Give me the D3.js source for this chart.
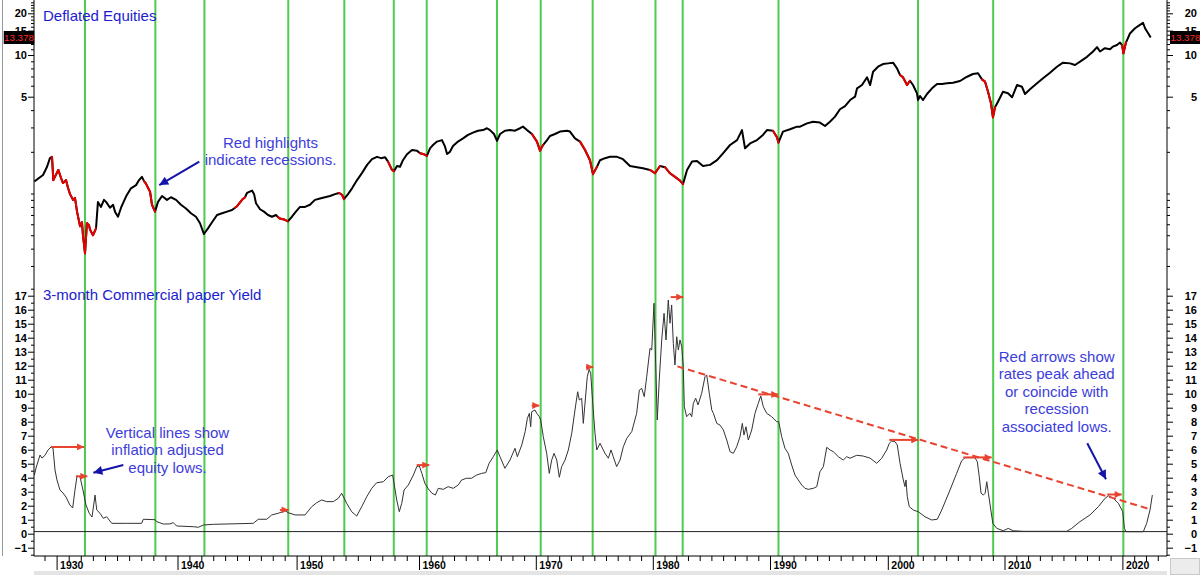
<!DOCTYPE html>
<html>
<head>
<meta charset="utf-8">
<script src="https://cdn.jsdelivr.net/npm/d3@7"></script>
<style>
  html, body { margin: 0; padding: 0; background: #fff; }
  svg { display: block; font-family: Arial, "Liberation Sans", sans-serif; }
</style>
</head>
<body>
<div id="chart"></div>
<script>
// ---------------------------------------------------------------
// Data
// ---------------------------------------------------------------
const decadeTicks = [1930, 1940, 1950, 1960, 1970, 1980, 1990, 2000, 2010, 2020];
const equityTickLabels = [5, 10, 15, 20];
const yieldTickLabels = [-1, 0, 1, 2, 3, 4, 5, 6, 7, 8, 9, 10, 11, 12, 13, 14, 15, 16, 17];
const lastEquity = 13.3787;

// inflation adjusted equity lows (green verticals)
const equityLows = [1932.35, 1938.17, 1942.26, 1949.3, 1953.9, 1957.94, 1960.66, 1966.68,
    1970.42, 1974.86, 1980.23, 1982.55, 1990.72, 2002.59, 2009.03, 2020.08];

// recession windows, highlighted red on the equity line
const recessions = [[1929.6, 1933.3], [1937.15, 1938.2], [1944.8, 1945.7], [1948.4, 1949.3],
    [1953.5, 1954.0], [1957.5, 1958.0], [1960.1, 1960.8], [1969.7, 1970.5], [1973.6, 1975.2],
    [1979.8, 1980.4], [1981.05, 1982.65], [1990.4, 1990.85], [2001.05, 2001.9],
    [2008.0, 2009.3], [2020.0, 2020.25]];

// deflated equities [year, index]
const equitySeries = [
    [1928.16, 1.22], [1928.88, 1.36], [1929.21, 1.56], [1929.45, 1.8], [1929.62, 1.84], [1929.73, 1.25],
    [1930.14, 1.48], [1930.36, 1.3], [1930.53, 1.19], [1930.78, 1.25], [1930.94, 1.1], [1931.11, 0.99],
    [1931.36, 0.9], [1931.52, 0.93], [1931.69, 0.74], [1931.94, 0.58], [1932.1, 0.62], [1932.18, 0.5],
    [1932.35, 0.37], [1932.51, 0.61], [1932.68, 0.59], [1932.76, 0.55], [1933.01, 0.5], [1933.26, 0.56],
    [1933.42, 0.87], [1933.67, 0.8], [1933.92, 0.9], [1934.09, 0.87], [1934.42, 0.79], [1934.67, 0.83],
    [1934.83, 0.74], [1935.08, 0.68], [1935.33, 0.79], [1935.74, 0.95], [1936.15, 1.09], [1936.57, 1.15],
    [1936.82, 1.25], [1937.06, 1.32], [1937.23, 1.23], [1937.39, 1.18], [1937.56, 1.1], [1937.73, 1.03],
    [1937.89, 0.83], [1938.14, 0.74], [1938.39, 0.87], [1938.72, 0.96], [1939.13, 0.9], [1939.46, 0.94],
    [1939.88, 0.9], [1940.29, 0.83], [1940.71, 0.78], [1941.13, 0.72], [1941.55, 0.68], [1941.89, 0.61],
    [1942.22, 0.51], [1942.56, 0.56], [1942.9, 0.62], [1943.32, 0.7], [1943.74, 0.72], [1944.16, 0.74],
    [1944.58, 0.76], [1944.83, 0.79], [1945.0, 0.81], [1945.42, 0.9], [1945.67, 0.94], [1945.84, 1.01],
    [1946.26, 1.05], [1946.43, 0.99], [1946.59, 0.85], [1946.93, 0.77], [1947.26, 0.74], [1947.6, 0.7],
    [1947.93, 0.68], [1948.27, 0.7], [1948.44, 0.675], [1948.6, 0.66], [1948.94, 0.65], [1949.27, 0.63],
    [1949.61, 0.68], [1949.94, 0.74], [1950.28, 0.8], [1950.69, 0.8], [1951.09, 0.83], [1951.5, 0.9],
    [1951.91, 0.92], [1952.32, 0.94], [1952.73, 0.96], [1953.14, 0.99], [1953.46, 1.01], [1953.71, 0.98],
    [1953.87, 0.91], [1954.2, 0.99], [1954.53, 1.09], [1954.94, 1.25], [1955.35, 1.41], [1955.76, 1.61],
    [1956.16, 1.77], [1956.57, 1.84], [1956.9, 1.8], [1957.22, 1.83], [1957.47, 1.7], [1957.79, 1.48],
    [1957.96, 1.45], [1958.2, 1.58], [1958.45, 1.56], [1958.69, 1.74], [1959.02, 1.92], [1959.43, 2.06],
    [1959.84, 2.04], [1960.09, 1.95], [1960.43, 1.92], [1960.68, 1.87], [1960.94, 2.12], [1961.2, 2.24],
    [1961.54, 2.37], [1961.97, 2.43], [1962.23, 2.18], [1962.4, 1.93], [1962.65, 2.0], [1962.91, 2.2],
    [1963.34, 2.37], [1963.77, 2.5], [1964.2, 2.65], [1964.62, 2.75], [1965.05, 2.84], [1965.48, 2.87],
    [1965.82, 2.96], [1966.08, 2.87], [1966.42, 2.69], [1966.68, 2.4], [1966.94, 2.69], [1967.36, 2.84],
    [1967.79, 2.87], [1968.22, 2.84], [1968.65, 2.96], [1968.9, 3.04], [1969.25, 2.87], [1969.67, 2.69],
    [1970.1, 2.37], [1970.36, 2.04], [1970.62, 2.24], [1970.96, 2.43], [1971.21, 2.6], [1971.64, 2.69],
    [1972.07, 2.8], [1972.67, 2.84], [1972.92, 2.8], [1973.35, 2.5], [1973.78, 2.37], [1974.21, 2.06],
    [1974.63, 1.74], [1974.89, 1.38], [1975.23, 1.56], [1975.49, 1.74], [1975.91, 1.8], [1976.34, 1.84],
    [1976.94, 1.84], [1977.45, 1.77], [1978.05, 1.58], [1978.65, 1.55], [1979.16, 1.52], [1979.76, 1.48],
    [1980.19, 1.4], [1980.61, 1.58], [1981.04, 1.55], [1981.47, 1.4], [1981.89, 1.32], [1982.32, 1.24],
    [1982.58, 1.17], [1982.92, 1.48], [1983.35, 1.7], [1983.77, 1.72], [1984.28, 1.58], [1984.88, 1.61],
    [1985.48, 1.74], [1985.99, 1.95], [1986.59, 2.24], [1987.19, 2.43], [1987.61, 2.87], [1987.87, 2.12],
    [1988.3, 2.3], [1988.89, 2.43], [1989.4, 2.65], [1989.74, 2.87], [1990.25, 2.84], [1990.59, 2.55],
    [1990.72, 2.33], [1991.1, 2.8], [1991.7, 2.91], [1992.29, 3.04], [1992.55, 3.04], [1993.14, 3.21],
    [1993.65, 3.3], [1994.24, 3.25], [1994.67, 3.07], [1995.09, 3.3], [1995.52, 3.59], [1995.94, 4.06],
    [1996.37, 4.28], [1996.8, 4.73], [1997.22, 5.0], [1997.39, 5.75], [1997.81, 6.07], [1998.24, 6.9],
    [1998.5, 6.07], [1998.75, 7.58], [1999.17, 8.23], [1999.59, 8.6], [2000.02, 8.7], [2000.45, 8.8],
    [2000.79, 8.0], [2001.05, 7.17], [2001.3, 6.9], [2001.65, 6.07], [2001.9, 6.52], [2002.16, 6.07],
    [2002.5, 5.29], [2002.59, 4.73], [2002.76, 5.06], [2003.02, 4.73], [2003.36, 5.23], [2003.79, 5.75],
    [2004.22, 6.18], [2004.64, 6.18], [2005.07, 6.25], [2005.59, 6.31], [2006.19, 6.49], [2006.79, 6.97],
    [2007.3, 7.29], [2007.73, 7.38], [2008.07, 6.67], [2008.33, 6.42], [2008.59, 5.43], [2008.84, 4.48],
    [2009.01, 3.55], [2009.19, 4.19], [2009.44, 4.6], [2009.87, 5.43], [2010.3, 5.29], [2010.64, 4.95],
    [2011.06, 6.07], [2011.48, 5.9], [2011.74, 5.23], [2012.16, 5.65], [2012.76, 6.25], [2013.27, 6.79],
    [2013.86, 7.45], [2014.45, 8.23], [2014.96, 8.8], [2015.56, 8.7], [2015.98, 8.47], [2016.41, 8.95],
    [2017.0, 9.7], [2017.51, 10.6], [2017.85, 11.4], [2018.1, 10.6], [2018.52, 11.2], [2018.95, 11.0],
    [2019.2, 11.5], [2019.54, 11.8], [2019.8, 12.3], [2019.97, 11.8], [2020.09, 10.3], [2020.3, 12.3],
    [2020.64, 14.3], [2021.07, 15.6], [2021.49, 16.5], [2021.75, 17.1], [2021.92, 15.6], [2022.17, 14.4],
    [2022.4, 13.38]
];

// 3-month commercial paper yield [year, %]
const yieldSeries = [
    [1928.16, 4.19], [1928.3, 4.7], [1928.63, 5.62], [1928.79, 5.4], [1929.04, 5.6], [1929.29, 5.98],
    [1929.54, 6.19], [1929.7, 6.12], [1929.87, 4.55], [1930.03, 3.84], [1930.28, 3.12], [1930.53, 2.91],
    [1930.78, 2.62], [1931.1, 2.05], [1931.33, 1.84], [1931.52, 3.12], [1931.69, 4.12], [1931.94, 4.05],
    [1932.18, 3.12], [1932.43, 2.05], [1932.7, 1.46], [1932.93, 1.19], [1933.18, 2.76], [1933.32, 1.69],
    [1933.59, 1.46], [1933.86, 1.1], [1934.14, 1.21], [1934.56, 0.74], [1935.8, 0.74], [1937.04, 0.74],
    [1937.17, 1.03], [1938.14, 1.0], [1938.28, 0.86], [1938.83, 0.69], [1939.38, 0.7], [1939.65, 0.79],
    [1939.93, 0.55], [1941.33, 0.5], [1941.75, 0.46], [1942.17, 0.62], [1943.0, 0.67], [1946.36, 0.74],
    [1946.78, 1.03], [1947.49, 1.03], [1947.91, 1.34], [1948.46, 1.46], [1949.03, 1.64], [1949.3, 1.5],
    [1949.87, 1.34], [1950.69, 1.34], [1951.23, 1.93], [1951.64, 2.21], [1952.05, 2.41], [1952.46, 2.29],
    [1953.0, 2.29], [1953.41, 2.53], [1953.68, 2.89], [1954.09, 2.17], [1954.5, 1.57], [1954.91, 1.26],
    [1955.32, 1.93], [1955.73, 2.64], [1956.14, 3.24], [1956.54, 3.64], [1957.08, 3.71], [1957.49, 4.07],
    [1957.85, 4.19], [1958.18, 2.41], [1958.39, 1.57], [1958.59, 2.17], [1958.78, 3.12], [1959.13, 3.48],
    [1959.54, 4.19], [1959.82, 4.79], [1960.03, 4.84], [1960.25, 4.3], [1960.5, 3.6], [1960.8, 3.2],
    [1961.1, 2.9], [1961.4, 2.76], [1961.65, 3.24], [1962.08, 3.17], [1962.5, 3.36], [1962.93, 3.24],
    [1963.36, 3.48], [1963.65, 3.84], [1964.07, 3.96], [1964.5, 3.96], [1964.93, 4.19], [1965.36, 4.31],
    [1965.72, 4.36], [1966.0, 5.03], [1966.36, 5.5], [1966.7, 5.98], [1966.93, 5.5], [1967.36, 4.67],
    [1967.79, 5.26], [1968.22, 6.1], [1968.42, 5.5], [1968.8, 6.34], [1969.09, 7.29], [1969.28, 8.24],
    [1969.45, 8.6], [1969.56, 7.64], [1969.65, 8.71], [1969.93, 8.84], [1970.08, 8.6], [1970.3, 8.36],
    [1970.42, 8.12], [1970.64, 6.93], [1970.93, 5.74], [1971.15, 4.31], [1971.36, 5.26], [1971.56, 5.74],
    [1971.79, 5.26], [1972.01, 4.03], [1972.21, 4.79], [1972.5, 5.26], [1972.78, 5.98], [1973.07, 7.17],
    [1973.35, 8.84], [1973.58, 10.14], [1973.72, 9.55], [1973.92, 9.67], [1974.06, 7.88], [1974.4, 11.21],
    [1974.56, 11.74], [1974.69, 11.46], [1974.91, 8.84], [1975.06, 7.17], [1975.21, 5.98], [1975.49, 6.46],
    [1975.91, 5.74], [1976.2, 5.39], [1976.43, 5.98], [1976.62, 5.5], [1976.91, 4.79], [1977.2, 5.26],
    [1977.48, 6.21], [1977.77, 6.81], [1978.2, 7.29], [1978.62, 8.6], [1978.85, 10.26], [1979.05, 10.38],
    [1979.27, 9.79], [1979.48, 11.21], [1979.76, 13.24], [1979.91, 13.12], [1980.1, 16.46], [1980.27, 11.46],
    [1980.38, 8.12], [1980.55, 10.98], [1980.76, 13.84], [1980.96, 15.74], [1981.13, 13.84], [1981.32, 16.69],
    [1981.47, 15.03], [1981.61, 16.34], [1981.75, 13.6], [1981.89, 12.05], [1982.04, 14.07], [1982.18, 13.12],
    [1982.32, 13.84], [1982.47, 13.36], [1982.6, 11.93], [1982.69, 9.07], [1982.89, 8.36], [1983.17, 8.6],
    [1983.32, 8.36], [1983.46, 9.31], [1983.66, 9.67], [1983.86, 9.2], [1984.17, 10.03], [1984.45, 11.21],
    [1984.6, 11.34], [1984.82, 10.03], [1985.03, 8.84], [1985.17, 8.6], [1985.46, 7.88], [1985.73, 7.76],
    [1986.02, 7.41], [1986.31, 6.69], [1986.59, 5.86], [1986.87, 5.74], [1987.16, 6.21], [1987.44, 6.93],
    [1987.64, 7.88], [1987.78, 7.05], [1987.95, 7.64], [1988.15, 6.69], [1988.44, 7.41], [1988.72, 8.6],
    [1989.0, 9.31], [1989.21, 9.84], [1989.43, 9.07], [1989.72, 8.6], [1990.14, 8.36], [1990.57, 8.0],
    [1990.74, 8.0], [1990.99, 6.93], [1991.27, 6.1], [1991.55, 5.74], [1991.84, 4.91], [1992.12, 4.19],
    [1992.4, 3.84], [1992.69, 3.48], [1992.97, 3.24], [1993.25, 3.17], [1993.68, 3.24], [1993.97, 3.36],
    [1994.24, 4.43], [1994.53, 4.79], [1994.82, 6.17], [1995.1, 5.98], [1995.37, 5.86], [1995.8, 5.5],
    [1996.22, 5.26], [1996.51, 5.5], [1996.79, 5.39], [1997.36, 5.6], [1997.9, 5.55], [1998.49, 5.4],
    [1999.06, 5.03], [1999.48, 5.39], [1999.91, 5.98], [2000.13, 6.46], [2000.33, 6.62], [2000.62, 6.57],
    [2000.81, 6.34], [2001.05, 5.03], [2001.33, 3.84], [2001.47, 3.36], [2001.56, 3.84], [2001.67, 2.64],
    [2001.84, 1.93], [2002.19, 1.69], [2002.61, 1.57], [2003.19, 1.21], [2003.76, 0.98], [2004.24, 1.03],
    [2004.62, 1.69], [2005.33, 3.12], [2005.9, 4.31], [2006.33, 5.21], [2006.62, 5.43], [2007.47, 5.43],
    [2007.67, 5.14], [2007.84, 4.07], [2007.99, 2.89], [2008.19, 2.76], [2008.34, 2.89], [2008.48, 3.71],
    [2008.62, 2.89], [2008.83, 1.69], [2009.0, 0.74], [2009.34, 0.38], [2009.9, 0.21], [2010.32, 0.38],
    [2010.75, 0.21], [2011.59, 0.17], [2015.28, 0.17], [2015.7, 0.38], [2016.4, 0.86], [2017.25, 1.34],
    [2017.96, 1.93], [2018.53, 2.53], [2018.81, 2.71], [2019.23, 2.53], [2019.66, 2.17], [2020.03, 1.57],
    [2020.17, 0.38], [2020.31, 0.14], [2021.77, 0.14], [2022.06, 0.74], [2022.34, 1.69], [2022.54, 2.76]
];

// red arrows: [from year, to year, yield level]
const rateArrows = [[1929.54, 1932.27, 6.2], [1931.6, 1932.54, 4.1], [1948.6, 1949.33, 1.7],
    [1959.81, 1960.88, 4.9], [1969.65, 1970.3, 9.15], [1974.29, 1974.91, 11.9], [1981.53, 1982.6, 16.9],
    [1989.0, 1990.7, 9.95], [2000.13, 2002.61, 6.7], [2006.47, 2008.9, 5.45], [2018.71, 2019.94, 2.8]];

// dashed down trend of the rate peaks [year, yield]
const rateTrend = [[1982.1, 11.95], [2022.34, 1.75]];

// ---------------------------------------------------------------
// Layout
// ---------------------------------------------------------------
const width = 1200, height = 575;
const plotLeft = 34, plotRight = 1167, axisY = 556;
// decade tick positions: the source spaces time by trading weeks, so decades are not quite even
const decadePx = [56.6, 177.5, 296.6, 419, 535.8, 652.8, 770, 887.8, 1004.5, 1122.4];

const red = '#e8432e';
const green = '#4fcb4f';
const navy = '#1414a8';
const labelBlue = '#1c1cd0';
const noteBlue = '#3d3ddb';

const svg = d3.select('#chart').append('svg')
    .attr('width', width)
    .attr('height', height);

svg.append('rect').attr('width', width).attr('height', height).attr('fill', '#fff');

const x = d3.scaleLinear().domain(decadeTicks).range(decadePx);
const yEq = d3.scaleLog().domain([5, 20]).range([96.7, 13.3]);
const yRate = d3.scaleLinear().domain([-1, 17]).range([547.7, 295.7]);

const defs = svg.append('defs');
defs.append('clipPath').attr('id', 'plotClip')
    .append('rect')
    .attr('x', plotLeft).attr('y', 0)
    .attr('width', plotRight - plotLeft).attr('height', axisY);

function arrowHead(id, color, w, h) {
    defs.append('marker')
        .attr('id', id)
        .attr('viewBox', '0 0 10 10')
        .attr('refX', 10).attr('refY', 5)
        .attr('markerWidth', w).attr('markerHeight', h)
        .attr('markerUnits', 'userSpaceOnUse')
        .attr('orient', 'auto')
        .append('path')
        .attr('d', 'M0,0L10,5L0,10Z')
        .attr('fill', color);
}
arrowHead('headRed', red, 8, 7);
arrowHead('headNavy', navy, 11, 9);

const plot = svg.append('g').attr('clip-path', 'url(#plotClip)');

// Green verticals at equity lows
plot.selectAll('.low')
    .data(equityLows)
    .join('line')
    .attr('class', 'low')
    .attr('x1', d => x(d)).attr('x2', d => x(d))
    .attr('y1', 0).attr('y2', axisY)
    .attr('stroke', green)
    .attr('stroke-width', 2);

// Yield reference line just above zero
plot.append('line')
    .attr('x1', plotLeft).attr('x2', plotRight)
    .attr('y1', yRate(0.15)).attr('y2', yRate(0.15))
    .attr('stroke', '#222')
    .attr('stroke-width', 1);

// Yield line
const rateLine = d3.line().x(d => x(d[0])).y(d => yRate(d[1]));
plot.append('path')
    .datum(yieldSeries)
    .attr('d', rateLine)
    .attr('fill', 'none')
    .attr('stroke', '#333')
    .attr('stroke-width', 1);

// Equity line, then the recession parts in red on top
const eqLine = d3.line().x(d => x(d[0])).y(d => yEq(d[1]));
plot.append('path')
    .datum(equitySeries)
    .attr('d', eqLine)
    .attr('fill', 'none')
    .attr('stroke', '#000')
    .attr('stroke-width', 2)
    .attr('stroke-linejoin', 'round');

const inRecession = yr => recessions.some(([a, b]) => yr >= a && yr <= b);
const redSegs = d3.pairs(equitySeries).filter(([p, q]) => inRecession((p[0] + q[0]) / 2));
plot.selectAll('.rec')
    .data(redSegs)
    .join('path')
    .attr('class', 'rec')
    .attr('d', d => eqLine(d))
    .attr('fill', 'none')
    .attr('stroke', '#e60000')
    .attr('stroke-width', 2)
    .attr('stroke-linecap', 'round');

// Trend of rate peaks
plot.append('path')
    .datum(rateTrend)
    .attr('d', rateLine)
    .attr('stroke', red)
    .attr('stroke-width', 2)
    .attr('stroke-dasharray', '7,4');

// Red arrows: rates peak ahead of equity lows
plot.selectAll('.rateArrow')
    .data(rateArrows)
    .join('line')
    .attr('class', 'rateArrow')
    .attr('x1', d => x(d[0])).attr('x2', d => x(d[1]))
    .attr('y1', d => yRate(d[2])).attr('y2', d => yRate(d[2]))
    .attr('stroke', red)
    .attr('stroke-width', 2)
    .attr('marker-end', 'url(#headRed)');

// ---------------------------------------------------------------
// Axes
// ---------------------------------------------------------------
const axisFont = g => g.selectAll('text')
    .style('font-size', '11px')
    .style('font-weight', 'bold')
    .style('fill', '#000');

const eqMinor = [0.3, 0.4, 0.5, 0.6, 0.7, 0.8, 0.9, 1, 2, 3, 4, 6, 7, 8, 9,
    11, 12, 13, 14, 16, 17, 18, 19, 21, 22, 23, 24];
const rateMinor = d3.range(-1.5, 18, 0.5).filter(v => v % 1 !== 0);
const yearMinor = d3.range(1929, 2024).filter(v => v % 10 !== 0);

function drawY(side, pos) {
    const make = side === 'left' ? d3.axisLeft : d3.axisRight;
    const sign = side === 'left' ? -1 : 1;

    // top panel (log)
    svg.append('g').attr('transform', `translate(${pos},0)`)
        .call(make(yEq).tickValues(eqMinor).tickSize(3).tickFormat(''))
        .call(g => g.select('.domain').remove());
    const eqAxis = svg.append('g').attr('transform', `translate(${pos},0)`)
        .call(make(yEq).tickValues(equityTickLabels).tickSize(6).tickPadding(3).tickFormat(d3.format('d')))
        .call(g => g.select('.domain').remove())
        .call(axisFont);

    // bottom panel (linear)
    svg.append('g').attr('transform', `translate(${pos},0)`)
        .call(make(yRate).tickValues(rateMinor).tickSize(3).tickFormat(''))
        .call(g => g.select('.domain').remove());
    const rateAxis = svg.append('g').attr('transform', `translate(${pos},0)`)
        .call(make(yRate).tickValues(yieldTickLabels).tickSize(6).tickPadding(3).tickFormat(d3.format('d')))
        .call(g => g.select('.domain').remove())
        .call(axisFont);

    if (sign > 0) {
        [eqAxis, rateAxis].forEach(a => a.selectAll('text').attr('text-anchor', 'end').attr('x', 30));
    } else {
        [eqAxis, rateAxis].forEach(a => a.selectAll('text').attr('x', -7));
    }

    svg.append('line')
        .attr('x1', pos).attr('x2', pos)
        .attr('y1', 0).attr('y2', axisY)
        .attr('stroke', '#000');
}
drawY('left', plotLeft);
drawY('right', plotRight);

// Time axis
svg.append('g').attr('transform', `translate(0,${axisY})`)
    .call(d3.axisBottom(x).tickValues(yearMinor).tickSize(5).tickFormat(''))
    .call(g => g.select('.domain').remove());
svg.append('g').attr('transform', `translate(0,${axisY})`)
    .call(d3.axisBottom(x).tickValues(decadeTicks).tickSize(14).tickFormat(d3.format('d')))
    .call(g => g.select('.domain').remove())
    .call(g => g.selectAll('text')
        .attr('text-anchor', 'start')
        .attr('x', 3).attr('y', 6)
        .style('font-size', '10.5px')
        .style('font-weight', 'bold')
        .style('fill', '#000'));
svg.append('line')
    .attr('x1', plotLeft).attr('x2', plotRight)
    .attr('y1', axisY).attr('y2', axisY)
    .attr('stroke', '#000');

// Last value badges (cut short by their box, as in the source)
[[3.5, 31, 'l', 7], [1170, 30, 'r', 6]].forEach(([bx, bw, id, chars]) => {
    defs.append('clipPath').attr('id', 'badge' + id)
        .append('rect').attr('x', bx).attr('y', 31).attr('width', bw).attr('height', 13);
    const b = svg.append('g').attr('clip-path', `url(#badge${id})`);
    b.append('rect').attr('x', bx).attr('y', 31).attr('width', bw).attr('height', 13).attr('fill', '#000');
    b.append('text')
        .attr('x', bx + 0.5).attr('y', 41.3)
        .style('font-size', '9.8px')
        .style('fill', '#ff2a2a')
        .text(String(lastEquity).slice(0, chars));
});

// Window chrome
svg.append('line').attr('x1', 2.5).attr('x2', 2.5).attr('y1', 0).attr('y2', axisY)
    .attr('stroke', '#999');
svg.append('rect').attr('x', plotLeft).attr('y', 571).attr('width', plotRight - plotLeft).attr('height', 4)
    .attr('fill', '#e4e4e4');
svg.append('rect').attr('x', 1170.5).attr('y', 558.5).attr('width', 29).attr('height', 16)
    .attr('fill', '#ececec').attr('stroke', '#c8c8c8');

// ---------------------------------------------------------------
// Titles and notes
// ---------------------------------------------------------------
svg.append('text').attr('x', 43).attr('y', 21)
    .style('font-size', '15px').style('fill', labelBlue)
    .text('Deflated Equities');
svg.append('text').attr('x', 43).attr('y', 299.5)
    .style('font-size', '15px').style('fill', labelBlue)
    .text('3-month Commercial paper Yield');

function note(lines, cx, y0) {
    const t = svg.append('text')
        .attr('text-anchor', 'middle')
        .style('font-size', '15px')
        .style('fill', noteBlue);
    lines.forEach((s, i) => {
        t.append('tspan').attr('x', cx).attr('y', y0 + i * 17.4).text(s);
    });
}
note(['Red highlights', 'indicate recessions.'], 270.5, 147.5);
note(['Vertical lines show', 'inflation adjusted', 'equity lows.'], 167.5, 438);
note(['Red arrows show', 'rates peak ahead', 'or coincide with', 'recession', 'associated lows.'], 1056.7, 362);

// Pointer arrows (tail -> tip, in data units of their panel)
const pointers = [
    { scale: yEq, from: [1941.83, 1.7], to: [1938.49, 1.15] },
    { scale: yRate, from: [1935.52, 4.91], to: [1933.04, 4.36] },
    { scale: yRate, from: [2017.02, 6.46], to: [2018.61, 3.89] }
];
pointers.forEach(p => {
    svg.append('line')
        .attr('x1', x(p.from[0])).attr('y1', p.scale(p.from[1]))
        .attr('x2', x(p.to[0])).attr('y2', p.scale(p.to[1]))
        .attr('stroke', navy)
        .attr('stroke-width', 2)
        .attr('marker-end', 'url(#headNavy)');
});
</script>
</body>
</html>
